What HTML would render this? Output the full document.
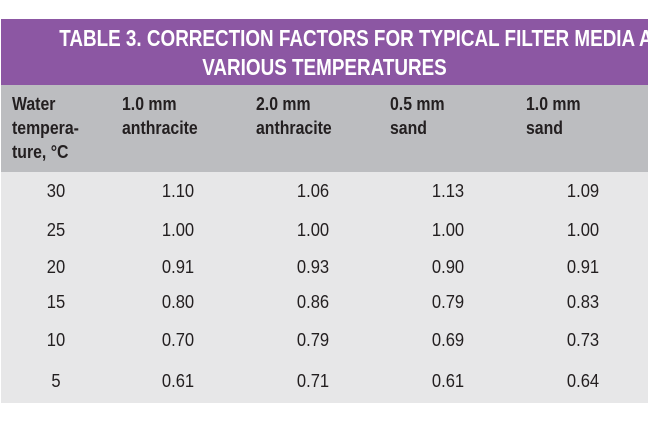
<!DOCTYPE html>
<html><head><meta charset="utf-8"><style>
body{margin:0;width:650px;height:422px;background:#fff;position:relative;overflow:hidden;font-family:"Liberation Sans",sans-serif}
.t{position:absolute;left:1px;width:647px;top:19px;height:66px;background:#8c57a3;color:#fff;text-align:center;font-weight:bold;font-size:23px;line-height:29px;padding-top:5px;box-sizing:border-box}
.t span{display:block;white-space:nowrap;transform:scaleX(0.82);transform-origin:center}
.h{position:absolute;left:1px;width:647px;top:85px;height:87px;background:#bcbdc0}
.b{position:absolute;left:1px;width:647px;top:172px;height:231px;background:#e7e7e8}
.hc{position:absolute;top:92px;font-weight:bold;font-size:18px;line-height:24px;color:#231f20;transform:scaleX(0.88);transform-origin:left;white-space:nowrap}
.c{position:absolute;font-size:18px;color:#231f20;transform:translateX(-50%) scaleX(0.92);line-height:20px}
</style></head><body>
<div class="t"><span>TABLE 3. CORRECTION FACTORS FOR TYPICAL FILTER MEDIA AT</span><span>VARIOUS TEMPERATURES</span></div>
<div class="h"></div>
<div class="b"></div>
<div class="hc" style="left:12px">Water<br>tempera-<br>ture, °C</div>
<div class="hc" style="left:122px">1.0 mm<br>anthracite</div>
<div class="hc" style="left:256px">2.0 mm<br>anthracite</div>
<div class="hc" style="left:390px">0.5 mm<br>sand</div>
<div class="hc" style="left:526px">1.0 mm<br>sand</div>
<div id="rows"></div>
<script>
const temps=["30","25","20","15","10","5"];
const anth1=["1.10","1.00","0.91","0.80","0.70","0.61"];
const anth2=["1.06","1.00","0.93","0.86","0.79","0.71"];
const sand05=["1.13","1.00","0.90","0.79","0.69","0.61"];
const sand1=["1.09","1.00","0.91","0.83","0.73","0.64"];
const cols=[temps,anth1,anth2,sand05,sand1];
const colNames=["temperature","anthracite-1mm","anthracite-2mm","sand-05mm","sand-1mm"];
const xs=[56,178,313,448,583];
const ys=[181,220,257,292,330,371];
const root=document.getElementById('rows');
cols.forEach((col,ci)=>col.forEach((v,ri)=>{
  const d=document.createElement('div');
  d.className='c';
  d.style.left=xs[ci]+'px';
  d.style.top=ys[ri]+'px';
  d.textContent=v;
  
  
  root.appendChild(d);
}));
</script>
</body></html>
